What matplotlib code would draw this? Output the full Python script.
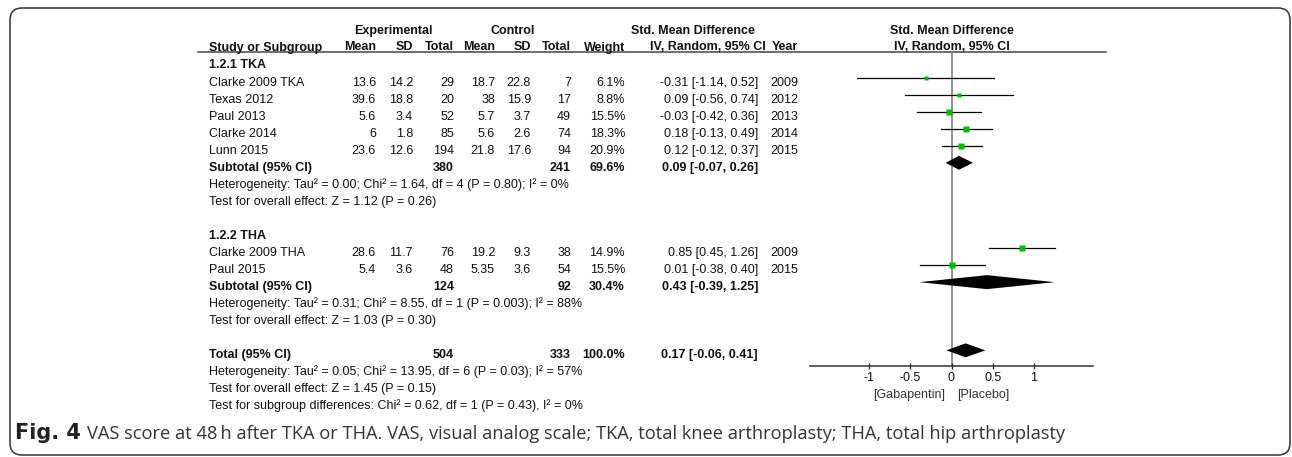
import matplotlib
matplotlib.use("Agg")
import matplotlib.pyplot as plt
from matplotlib.patches import FancyBboxPatch
import numpy as np

# study level data
studies = ["Clarke 2009 TKA", "Texas 2012", "Paul 2013", "Clarke 2014", "Lunn 2015",
           "Clarke 2009 THA", "Paul 2015"]
exp_mean = [13.6, 39.6, 5.6, 6, 23.6, 28.6, 5.4]
exp_sd = [14.2, 18.8, 3.4, 1.8, 12.6, 11.7, 3.6]
exp_n = [29, 20, 52, 85, 194, 76, 48]
ctl_mean = [18.7, 38, 5.7, 5.6, 21.8, 19.2, 5.35]
ctl_sd = [22.8, 15.9, 3.7, 2.6, 17.6, 9.3, 3.6]
ctl_n = [7, 17, 49, 74, 94, 38, 54]
weight = [6.1, 8.8, 15.5, 18.3, 20.9, 14.9, 15.5]
smd = [-0.31, 0.09, -0.03, 0.18, 0.12, 0.85, 0.01]
ci_lo = [-1.14, -0.56, -0.42, -0.13, -0.12, 0.45, -0.38]
ci_hi = [0.52, 0.74, 0.36, 0.49, 0.37, 1.26, 0.40]
year = [2009, 2012, 2013, 2014, 2015, 2009, 2015]
study_rows = [1, 2, 3, 4, 5, 11, 12]

# pooled estimates
pooled_names = ["Subtotal (95% CI)", "Subtotal (95% CI)", "Total (95% CI)"]
pooled_rows = [6, 13, 17]
pooled_exp_n = [380, 124, 504]
pooled_ctl_n = [241, 92, 333]
pooled_weight = [69.6, 30.4, 100.0]
pooled_smd = [0.09, 0.43, 0.17]
pooled_lo = [-0.07, -0.39, -0.06]
pooled_hi = [0.26, 1.25, 0.41]

group_titles = ["1.2.1 TKA", "1.2.2 THA"]
group_rows = [0, 10]

notes = [
    (7, "Heterogeneity: Tau\u00b2 = 0.00; Chi\u00b2 = 1.64, df = 4 (P = 0.80); I\u00b2 = 0%"),
    (8, "Test for overall effect: Z = 1.12 (P = 0.26)"),
    (14, "Heterogeneity: Tau\u00b2 = 0.31; Chi\u00b2 = 8.55, df = 1 (P = 0.003); I\u00b2 = 88%"),
    (15, "Test for overall effect: Z = 1.03 (P = 0.30)"),
    (18, "Heterogeneity: Tau\u00b2 = 0.05; Chi\u00b2 = 13.95, df = 6 (P = 0.03); I\u00b2 = 57%"),
    (19, "Test for overall effect: Z = 1.45 (P = 0.15)"),
    (20, "Test for subgroup differences: Chi\u00b2 = 0.62, df = 1 (P = 0.43), I\u00b2 = 0%"),
]

ticks = [-1, -0.5, 0, 0.5, 1]
tick_labels = ["-1", "-0.5", "0", "0.5", "1"]

W, H = 1292, 457
ROW0, PITCH = 60.5, 17.05   # pixel y of row 0 and row spacing
LINE_Y, AXIS_Y = 52, 366
ZERO_X, UNIT = 951.5, 82.5
XLIM = 1.72

TXT = "#111111"
FONT = ["Liberation Sans", "DejaVu Sans"]
FS = 9

# right edges of the numeric columns
COL = {"em": 376, "es": 413, "en": 454, "cm": 495, "cs": 531, "cn": 571,
       "w": 625, "ci": 758, "yr": 798}

fig = plt.figure(figsize=(W / 100, H / 100), dpi=100)
bg = fig.add_axes([0, 0, 1, 1])
bg.set_xlim(0, W)
bg.set_ylim(H, 0)
bg.axis("off")

border = FancyBboxPatch((10, 8), 1280, 447, boxstyle="round,pad=0,rounding_size=12",
                        fill=False, ec="#333333", lw=1.1)
bg.add_patch(border)


def base(row):
    return ROW0 + PITCH * row + 8


def put(x, y, s, ha="right", bold=False, **kw):
    bg.text(x, y, s, ha=ha, va="baseline", fontsize=FS, family=FONT, color=TXT,
            fontweight="bold" if bold else "normal", **kw)


# headers
put(393, 34, "Experimental", ha="center", bold=True)
put(513, 34, "Control", ha="center", bold=True)
put(693, 34, "Std. Mean Difference", ha="center", bold=True)
put(952, 34, "Std. Mean Difference", ha="center", bold=True)
hy = 50.5
put(209, hy, "Study or Subgroup", ha="left", bold=True)
for key, s in [("em", "Mean"), ("es", "SD"), ("en", "Total"), ("cm", "Mean"), ("cs", "SD"),
               ("cn", "Total"), ("w", "Weight"), ("yr", "Year")]:
    put(COL[key], hy, s, bold=True)
put(766, hy, "IV, Random, 95% CI", bold=True)
put(952, hy, "IV, Random, 95% CI", ha="center", bold=True)
bg.plot([198, 1106], [LINE_Y, LINE_Y], color="#444444", lw=1.1)

for r, s in zip(group_rows, group_titles):
    put(209, base(r), s, ha="left", bold=True)

for i, r in enumerate(study_rows):
    y = base(r)
    put(209, y, studies[i], ha="left")
    put(COL["em"], y, "{:g}".format(exp_mean[i]))
    put(COL["es"], y, "{:g}".format(exp_sd[i]))
    put(COL["en"], y, str(exp_n[i]))
    put(COL["cm"], y, "{:g}".format(ctl_mean[i]))
    put(COL["cs"], y, "{:g}".format(ctl_sd[i]))
    put(COL["cn"], y, str(ctl_n[i]))
    put(COL["w"], y, "{:.1f}%".format(weight[i]))
    put(COL["ci"], y, "{:.2f} [{:.2f}, {:.2f}]".format(smd[i], ci_lo[i], ci_hi[i]))
    put(COL["yr"], y, str(year[i]))

for i, r in enumerate(pooled_rows):
    y = base(r)
    put(209, y, pooled_names[i], ha="left", bold=True)
    put(COL["en"], y, str(pooled_exp_n[i]), bold=True)
    put(COL["cn"], y, str(pooled_ctl_n[i]), bold=True)
    put(COL["w"], y, "{:.1f}%".format(pooled_weight[i]), bold=True)
    put(COL["ci"], y,
        "{:.2f} [{:.2f}, {:.2f}]".format(pooled_smd[i], pooled_lo[i], pooled_hi[i]),
        bold=True)

for r, s in notes:
    put(209, base(r), s, ha="left")

# forest panel
x0 = ZERO_X - XLIM * UNIT
ax = fig.add_axes([x0 / W, 1 - AXIS_Y / H, 2 * XLIM * UNIT / W, (AXIS_Y - LINE_Y) / H])
ax.set_facecolor("none")
ax.set_xlim(-XLIM, XLIM)
ax.set_ylim((AXIS_Y - ROW0) / PITCH, (LINE_Y - ROW0) / PITCH)
for side in ["top", "left", "right"]:
    ax.spines[side].set_visible(False)
ax.spines["bottom"].set_color("#333333")
ax.spines["bottom"].set_linewidth(1.1)
ax.set_yticks([])
ax.set_xticks(ticks)
ax.set_xticklabels(tick_labels, family=FONT, fontsize=FS, color=TXT)
ax.tick_params(axis="x", direction="inout", length=5, width=1, color="#333333", pad=1.5)

ax.axvline(0, color="#7f7f7f", lw=1.2, zorder=1)

for i, r in enumerate(study_rows):
    ax.plot([ci_lo[i], ci_hi[i]], [r, r], color="black", lw=0.9, zorder=2)
    side = 1.31 * np.sqrt(weight[i]) * 0.72
    ax.plot(smd[i], r, marker="s", ms=side, color="#00bf00", mec="none", zorder=3)

dh = 0.41
for i, r in enumerate(pooled_rows):
    ax.fill([pooled_lo[i], pooled_smd[i], pooled_hi[i], pooled_smd[i]],
            [r, r - dh, r, r + dh], color="black", lw=0, zorder=3)

bg.text(ZERO_X - 0.08 * UNIT, 398, "[Gabapentin]", ha="right", va="baseline",
        fontsize=FS, family=FONT, color="#333333")
bg.text(ZERO_X + 0.07 * UNIT, 398, "[Placebo]", ha="left", va="baseline",
        fontsize=FS, family=FONT, color="#333333")

# caption
cap_y = 439
bg.text(15, cap_y, "Fig. 4", ha="left", va="baseline", fontsize=15,
        family="DejaVu Sans", fontweight="bold", color="#222222")
bg.text(87, cap_y,
        "VAS score at 48\u2009h after TKA or THA. VAS, visual analog scale; TKA, total knee "
        "arthroplasty; THA, total hip arthroplasty",
        ha="left", va="baseline", fontsize=13.15, family=["Open Sans", "DejaVu Sans"],
        color="#333333")

fig.savefig("out.png", dpi=100)
